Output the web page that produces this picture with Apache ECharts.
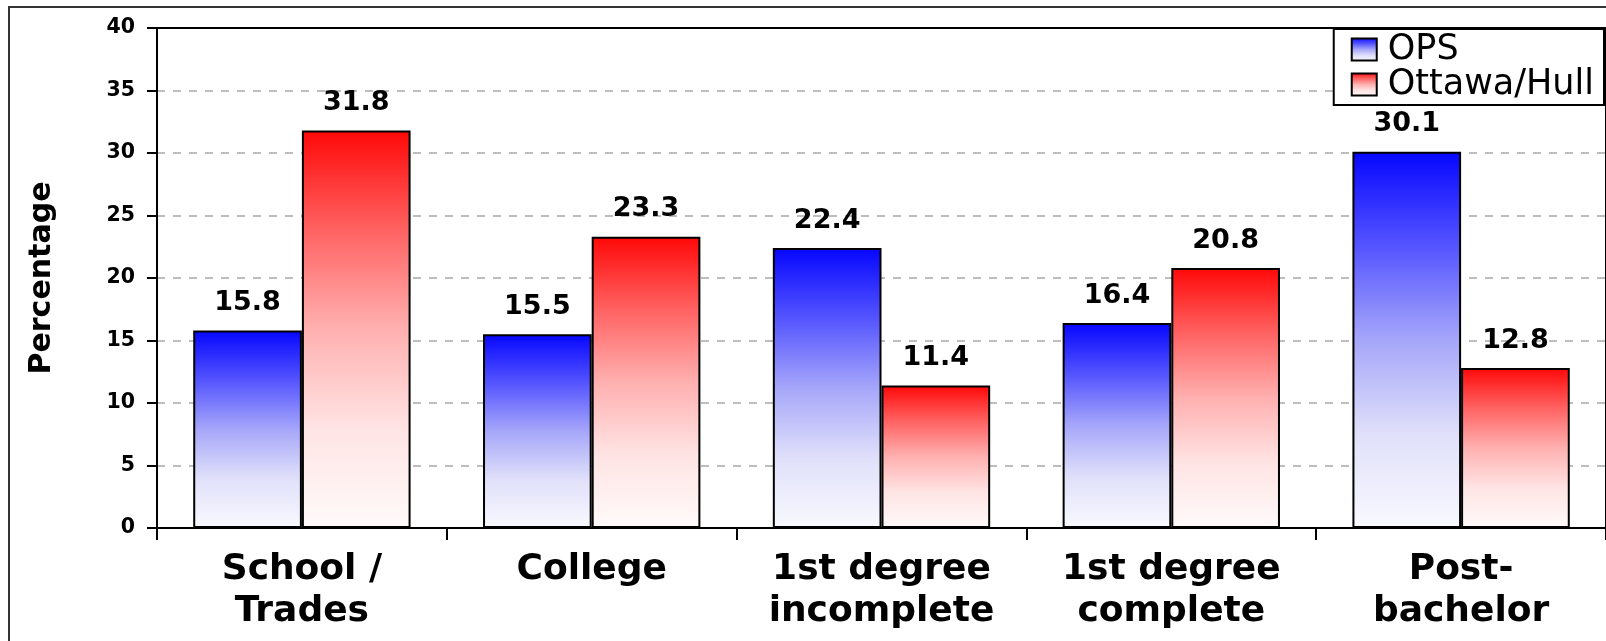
<!DOCTYPE html>
<html>
<head>
<meta charset="utf-8">
<script src="https://cdn.jsdelivr.net/npm/echarts@6/dist/echarts.min.js"></script>
<style>
  html, body { margin: 0; padding: 0; background: #fff; }
  #main { width: 1606px; height: 641px; }
</style>
</head>
<body>
<div id="main"></div>
<script>
var categories = ['School /\nTrades', 'College', '1st degree\nincomplete', '1st degree\ncomplete', 'Post-\nbachelor'];
var opsValues = [15.8, 15.5, 22.4, 16.4, 30.1];
var ottawaValues = [31.8, 23.3, 11.4, 20.8, 12.8];
var seriesNames = ['OPS', 'Ottawa/Hull'];

var FONT = 'DejaVu Sans';

// vertical gradient, dark at the top of each bar, almost white at the base
function grad(c0, c1, c2, c3, c4) {
    return new echarts.graphic.LinearGradient(0, 0, 0, 1, [
        { offset: 0, color: c0 },
        { offset: 0.25, color: c1 },
        { offset: 0.5, color: c2 },
        { offset: 0.75, color: c3 },
        { offset: 1, color: c4 }
    ]);
}

var blue = grad('#0606ff', '#5454ff', '#a6a6fa', '#e0e0fa', '#f9f9ff');
var red = grad('#ff0808', '#ff6262', '#ffb0b0', '#ffe4e4', '#fffafa');

var myChart = echarts.init(document.getElementById('main'));

var labelStyle = {
    show: true,
    position: 'top',
    distance: 14,
    color: '#000',
    fontFamily: FONT,
    fontWeight: 'bold',
    fontSize: 27
};

var option = {
    animation: false,
    graphic: [{
        type: 'rect',
        shape: { x: 9, y: 7, width: 1700, height: 700 },
        style: { fill: 'none', stroke: '#333', lineWidth: 2 },
        z: -1
    }],
    grid: {
        left: 157,
        top: 28,
        right: -1,
        bottom: 113,
        show: true,
        borderColor: '#000',
        borderWidth: 2
    },
    legend: {
        orient: 'vertical',
        right: 2,
        top: 29,
        data: seriesNames,
        icon: 'rect',
        backgroundColor: '#fff',
        borderColor: '#000',
        borderWidth: 2,
        borderRadius: 0,
        padding: [3, 10, 3, 17],
        itemWidth: 25,
        itemHeight: 22,
        itemGap: 0,
        textStyle: {
            fontFamily: FONT,
            fontSize: 35,
            lineHeight: 35,
            color: '#000',
            padding: [0, 0, 0, 6]
        }
    },
    xAxis: {
        type: 'category',
        data: categories,
        axisLine: { lineStyle: { color: '#000', width: 2 } },
        axisTick: { show: true, length: 12, lineStyle: { color: '#000', width: 2 } },
        axisLabel: {
            color: '#000',
            fontFamily: FONT,
            fontWeight: 'bold',
            fontSize: 36,
            lineHeight: 42,
            margin: 21,
            interval: 0
        }
    },
    yAxis: {
        type: 'value',
        min: 0,
        max: 40,
        interval: 5,
        name: 'Percentage',
        nameLocation: 'middle',
        nameRotate: 90,
        nameGap: 100,
        nameTextStyle: {
            color: '#000',
            fontFamily: FONT,
            fontWeight: 'bold',
            fontSize: 30
        },
        axisLine: { show: true, lineStyle: { color: '#000', width: 2 } },
        axisTick: { show: true, length: 10, lineStyle: { color: '#000', width: 2 } },
        axisLabel: {
            color: '#000',
            fontFamily: FONT,
            fontWeight: 'bold',
            fontSize: 20.5,
            margin: 22
        },
        splitLine: {
            show: true,
            showMinLine: false,
            showMaxLine: false,
            lineStyle: { color: '#bdbdbd', width: 2, type: [8, 8] }
        }
    },
    series: [
        {
            name: seriesNames[0],
            type: 'bar',
            data: opsValues,
            barGap: '0%',
            barCategoryGap: '25%',
            itemStyle: { color: blue, borderColor: '#000', borderWidth: 2 },
            label: labelStyle
        },
        {
            name: seriesNames[1],
            type: 'bar',
            data: ottawaValues,
            barGap: '0%',
            barCategoryGap: '25%',
            itemStyle: { color: red, borderColor: '#000', borderWidth: 2 },
            label: labelStyle
        }
    ]
};

myChart.setOption(option);
</script>
</body>
</html>
